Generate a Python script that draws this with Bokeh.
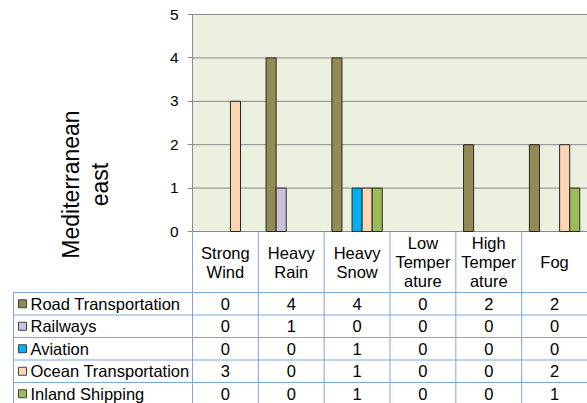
import math

from bokeh.core.properties import value
from bokeh.embed import file_html
from bokeh.models import FixedTicker, LinearAxis, Range1d
from bokeh.plotting import figure
from bokeh.resources import INLINE

# ---------------------------------------------------------------- data
hazards = ["Strong\nWind", "Heavy\nRain", "Heavy\nSnow",
           "Low\nTemper\nature", "High\nTemper\nature", "Fog"]
modes = ["Road Transportation", "Railways", "Aviation",
         "Ocean Transportation", "Inland Shipping"]
road_transportation = [0, 4, 4, 0, 2, 2]
railways = [0, 1, 0, 0, 0, 0]
aviation = [0, 0, 1, 0, 0, 0]
ocean_transportation = [3, 0, 1, 0, 0, 2]
inland_shipping = [0, 0, 1, 0, 0, 1]
y_ticks = [0, 1, 2, 3, 4, 5]
region = ["Mediterranean", "east"]

series = [road_transportation, railways, aviation,
          ocean_transportation, inland_shipping]
colors = ["#948a54", "#ccc1da", "#00b0f0", "#fcd5b5", "#9bbb59"]

FONT = value("Liberation Sans")
TABLE_LINE = "#7aa7dc"
GRID_LINE = "#8a8a8a"
BAR_EDGE = "#262626"
TABLE_FONT_SIZE = "16.5px"

# -------------------------------------------------------------- layout
W, H = 587, 403
PLOT_LEFT, PLOT_RIGHT = 192, 587      # plot area edges (px)
PLOT_TOP, PLOT_ZERO = 14, 231         # top of axis / value 0 (px)
TABLE_LEFT = 13
HEADER_BOTTOM = 292
ROW_H = 22.5
BAR_W = 0.153

n_cat = len(hazards)
y_max = y_ticks[-1]
col_px = (PLOT_RIGHT - PLOT_LEFT) / n_cat
unit_px = (PLOT_ZERO - PLOT_TOP) / y_max


def xd(px):
    return (px - PLOT_LEFT) / col_px


def yd(py):
    return (PLOT_ZERO - py) / unit_px


p = figure(width=W, height=H,
           x_range=Range1d(xd(0), xd(W)), y_range=Range1d(yd(H), yd(0)),
           x_axis_type=None, y_axis_type=None,
           toolbar_location=None, output_backend="svg", min_border=0)
p.outline_line_color = None
p.background_fill_color = "white"
p.border_fill_color = "white"

# plot area and gridlines
p.quad(left=0, right=n_cat, bottom=0, top=y_max,
       fill_color="#ebf1de", line_color=None)
p.segment(x0=[0] * len(y_ticks), x1=[n_cat] * len(y_ticks),
          y0=y_ticks, y1=y_ticks, line_color=GRID_LINE, line_width=1)

# clustered bars
for i, (vals, color) in enumerate(zip(series, colors)):
    xs = [k + 0.5 + (i - 2) * BAR_W for k, v in enumerate(vals) if v > 0]
    tops = [v for v in vals if v > 0]
    p.vbar(x=xs, top=tops, bottom=0, width=BAR_W,
           fill_color=color, line_color=BAR_EDGE, line_width=1)

# value axis
yaxis = LinearAxis(fixed_location=0, bounds=(0, y_max),
                   ticker=FixedTicker(ticks=y_ticks))
yaxis.axis_line_color = GRID_LINE
yaxis.major_tick_line_color = GRID_LINE
yaxis.major_tick_out = 5
yaxis.major_tick_in = 0
yaxis.minor_tick_out = 0
yaxis.minor_tick_in = 0
yaxis.major_label_text_font = "Liberation Sans"
yaxis.major_label_text_font_size = "15.5px"
yaxis.major_label_text_color = "black"
yaxis.major_label_standoff = 9
p.add_layout(yaxis, "left")

# rotated region title
p.text(x=[xd(70), xd(99)], y=[yd(184), yd(184)], text=region,
       angle=math.pi / 2, text_align="center", text_baseline="middle",
       text_font=FONT, text_font_size="23px", text_color="black")

# ------------------------------------------------------------ data table
cols = list(range(n_cat + 1))
p.segment(x0=cols, x1=cols, y0=[0] * len(cols), y1=[yd(H)] * len(cols),
          line_color=TABLE_LINE, line_width=1)
p.segment(x0=[xd(TABLE_LEFT)], x1=[xd(TABLE_LEFT)],
          y0=[yd(HEADER_BOTTOM)], y1=[yd(H)],
          line_color=TABLE_LINE, line_width=1)
row_edges = [HEADER_BOTTOM + r * ROW_H for r in range(len(modes) + 1)]
p.segment(x0=[xd(TABLE_LEFT)] * len(row_edges), x1=[n_cat] * len(row_edges),
          y0=[yd(e) for e in row_edges], y1=[yd(e) for e in row_edges],
          line_color=TABLE_LINE, line_width=1)

# header: category names, one text per line
hx, hy, ht = [], [], []
header_mid = (PLOT_ZERO + HEADER_BOTTOM) / 2
line_px = 19
for k, name in enumerate(hazards):
    lines = name.split("\n")
    for j, line in enumerate(lines):
        hx.append(k + 0.5)
        hy.append(yd(header_mid + (j - (len(lines) - 1) / 2) * line_px))
        ht.append(line)
p.text(x=hx, y=hy, text=ht, text_align="center", text_baseline="middle",
       text_font=FONT, text_font_size=TABLE_FONT_SIZE, text_color="black")

# body rows: legend key, series name, values
for r, (mode, vals, color) in enumerate(zip(modes, series, colors)):
    cy = yd(HEADER_BOTTOM + (r + 0.5) * ROW_H)
    p.scatter(x=[xd(22)], y=[cy], marker="square", size=8,
              fill_color=color, line_color="#404040", line_width=1)
    p.text(x=[xd(30)], y=[cy], text=[mode], text_align="left",
           text_baseline="middle", text_font=FONT,
           text_font_size=TABLE_FONT_SIZE, text_color="black")
    p.text(x=[k + 0.5 for k in range(n_cat)], y=[cy] * n_cat,
           text=[str(v) for v in vals], text_align="center",
           text_baseline="middle", text_font=FONT,
           text_font_size=TABLE_FONT_SIZE, text_color="black")

open("out.html", "w").write(file_html(p, INLINE))
